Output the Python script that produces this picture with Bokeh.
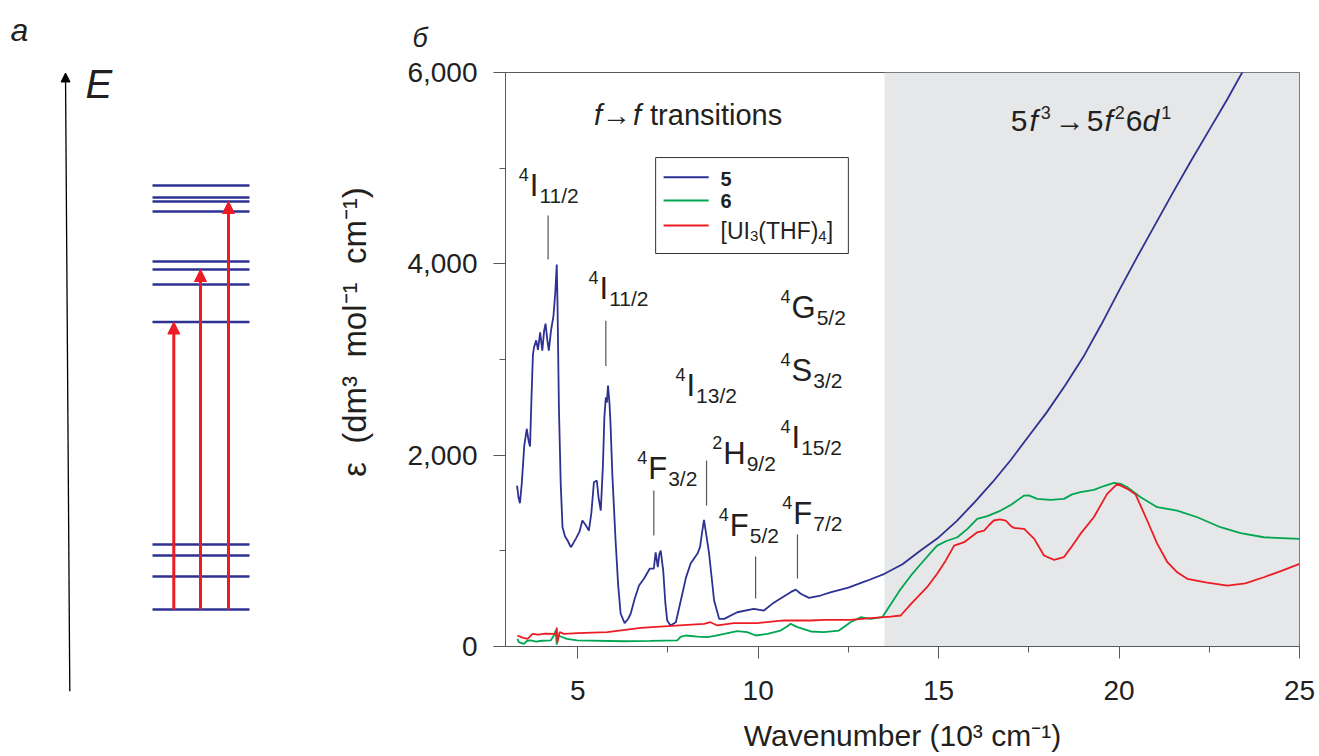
from bokeh.plotting import figure
from bokeh.layouts import row
from bokeh.models import (Range1d, BoxAnnotation, SingleIntervalTicker,
                          NumeralTickFormatter, Arrow, NormalHead)
from bokeh.core.properties import value
from bokeh.embed import file_html
from bokeh.resources import INLINE

FONT = "Liberation Sans"
INK = "#231f20"
AXC = "#58595b"
BLUE = "#2e3192"
GREEN = "#00a651"
RED = "#ed1c24"
SHADE = "#e6e7e8"

# ---------------- data: spectra (wavenumber in 10^3 cm^-1, epsilon) ----------------
blue_x = [3.32, 3.36, 3.40, 3.45, 3.52, 3.59, 3.64, 3.68, 3.72, 3.76, 3.79, 3.85, 3.90,
          3.96, 4.02, 4.07, 4.11, 4.16, 4.20, 4.26, 4.33, 4.38, 4.42, 4.44, 4.48, 4.53,
          4.58, 4.65, 4.72, 4.81, 4.88, 4.95, 5.05, 5.13, 5.22, 5.31, 5.38, 5.45, 5.53,
          5.58, 5.64, 5.70, 5.74, 5.78, 5.81, 5.84, 5.88, 5.91, 5.96, 6.05, 6.12, 6.19,
          6.30, 6.40, 6.47, 6.58, 6.70, 6.84, 7.00, 7.11, 7.16, 7.22, 7.26, 7.30, 7.37,
          7.43, 7.48, 7.57, 7.72, 7.90, 8.00, 8.13, 8.32, 8.39, 8.45, 8.50, 8.57, 8.64,
          8.78, 8.92, 9.06, 9.42, 9.88, 10.16, 10.39, 10.62, 10.90, 11.04, 11.18, 11.41,
          11.73, 12.0, 12.5, 13.0, 13.5, 14.0, 14.5, 15.0, 15.5, 16.0, 16.5, 17.0, 17.5,
          18.0, 18.5, 19.0, 19.5, 20.0, 20.5, 21.0, 21.5, 22.0, 22.5, 23.0, 23.5]
blue_y = [1682, 1560, 1497, 1700, 2100, 2275, 2150, 2090, 2600, 3050, 3128, 3200, 3100,
          3284, 3093, 3300, 3375, 3200, 3093, 3300, 3459, 3700, 3992, 3600, 2500, 1700,
          1247, 1150, 1108, 1038, 1080, 1128, 1200, 1317, 1270, 1212, 1400, 1717, 1735,
          1550, 1421, 1900, 2400, 2605, 2550, 2727, 2550, 2330, 1800, 1108, 650, 345,
          244, 290, 345, 500, 637, 711, 815, 815, 985, 829, 960, 1003, 794,
          450, 272, 219, 254, 551, 720, 867, 971, 1038, 1200, 1324, 1150, 975,
          481, 289, 289, 358, 394, 376, 446, 502, 568, 595, 551, 508,
          533, 565, 615, 685, 760, 860, 1003, 1140, 1310, 1510, 1720, 1950, 2200,
          2450, 2725, 3020, 3360, 3720, 4070, 4410, 4750, 5080, 5400, 5720, 6060]

green_x = [3.33, 3.37, 3.51, 3.60, 3.70, 3.85, 4.00, 4.25, 4.35, 4.39, 4.42, 4.44, 4.50,
           4.58, 4.70, 4.99, 6.28, 7.00, 7.76, 7.85, 7.99, 8.32, 8.59, 8.80, 9.06, 9.42,
           9.70, 9.93, 10.26, 10.62, 10.80, 10.90, 11.09, 11.46, 11.82, 12.24, 12.56,
           12.84, 13.12, 13.44, 13.67, 13.95, 14.23, 14.50, 14.80, 14.96, 15.20, 15.52,
           15.80, 16.07, 16.35, 16.72, 17.00, 17.37, 17.50, 17.73, 18.10, 18.47, 18.70,
           18.93, 19.30, 19.60, 19.86, 20.05, 20.23, 20.60, 21.06, 21.61, 22.17, 22.81,
           23.37, 24.01, 25.00]
green_y = [80, 45, 28, 60, 63, 50, 60, 63, 120, 167, 20, 100, 110,
           97, 80, 63, 55, 58, 63, 100, 115, 104, 97, 110, 132, 160,
           150, 115, 132, 167, 210, 237, 202, 157, 150, 167, 254,
           306, 289, 306, 440, 600, 740, 860, 990, 1055, 1100, 1142,
           1230, 1334, 1362, 1421, 1480, 1578, 1580, 1543, 1533, 1543, 1590,
           1613, 1637, 1680, 1710, 1700, 1665, 1560, 1456, 1421, 1351, 1247,
           1185, 1142, 1125]

red_x = [3.33, 3.45, 3.61, 3.75, 3.90, 4.10, 4.39, 4.42, 4.44, 4.50, 4.62, 5.00, 5.82,
         6.75, 7.60, 8.50, 8.68, 8.87, 9.33, 9.98, 10.71, 11.46, 11.82, 12.56, 13.21,
         13.67, 13.95, 14.25, 14.68, 14.96, 15.20, 15.43, 15.71, 16.07, 16.26, 16.40,
         16.53, 16.70, 16.86, 17.00, 17.09, 17.37, 17.65, 17.92, 18.20, 18.47, 18.70,
         18.93, 19.30, 19.67, 19.95, 20.23, 20.46, 20.78, 21.06, 21.34, 21.60, 21.89,
         22.40, 23.00, 23.50, 24.01, 24.50, 25.00]
red_y = [115, 95, 80, 132, 125, 135, 132, 198, 45, 150, 132, 140, 150,
         195, 215, 237, 254, 220, 245, 245, 272, 272, 279, 279, 300,
         313, 324, 450, 620, 760, 900, 1055, 1090, 1194, 1212, 1270,
         1317, 1330, 1317, 1260, 1240, 1229, 1125, 951, 906, 933, 1050,
         1177, 1351, 1595, 1700, 1648, 1588, 1317, 1073, 881, 780, 707,
         670, 637, 660, 724, 790, 864]

series_names = ["5", "6", "[UI3(THF)4]"]

# region boundaries
fd_start = 13.5
x_min, x_max = 3, 25
y_min, y_max = 0, 6000

# term symbols for f-f bands
term_mult = ["4", "4", "4", "4", "4", "4", "2", "4", "4", "4"]
term_letter = ["I", "I", "G", "S", "I", "I", "H", "F", "F", "F"]
term_J = ["11/2", "11/2", "5/2", "3/2", "13/2", "15/2", "9/2", "3/2", "5/2", "7/2"]
term_x = [3.37, 5.30, 10.62, 10.62, 7.71, 10.62, 8.73, 6.65, 8.91, 10.67]
term_y = [4714, 3637, 3439, 2780, 2624, 2080, 1913, 1756, 1160, 1286]

# band marker lines
mark_x = [4.18, 5.78, 7.11, 8.57, 9.93, 11.09]
mark_y0 = [4045, 2933, 1160, 1474, 502, 711]
mark_y1 = [4505, 3406, 1631, 1944, 941, 1171]

# ---------------- data: energy-level scheme (panel a) ----------------
level_energy = [0.0, 0.33, 0.54, 0.65, 2.875, 3.25, 3.40, 3.48, 3.98, 4.08, 4.12, 4.24]
transition_upper = [4, 6, 9]
transition_x = [165.3, 192.0, 220.0]
level_x0, level_x1 = 144, 241

# ---------------- text helper ----------------
AW = {'0': .556, '1': .556, '2': .556, '3': .556, '4': .556, '5': .556, '6': .556,
      '7': .556, '8': .556, '9': .556, '/': .278, 'I': .278, 'F': .611, 'G': .778,
      'S': .667, 'H': .722, 'T': .611, 'U': .722, '[': .278, ']': .278, '(': .333,
      ')': .333, ' ': .278, 'f': .278, 'd': .556, '→': 1.0, 't': .278, 'r': .333,
      'a': .556, 'n': .556, 's': .5, 'i': .222, 'o': .556}


def tw(s, size):
    return sum(AW.get(c, 0.556) for c in s) * size


def rich(fig, x, y, parts, shift=-10, color=INK):
    off = 0.0
    for text, size, dy, style, gap in parts:
        fig.text(x=[x], y=[y], text=[text], x_offset=off, y_offset=dy + shift,
                 text_font=value(FONT), text_font_size=f"{size}px",
                 text_font_style=style, text_baseline="alphabetic",
                 text_align="left", text_color=color)
        off += tw(text, size) + gap


# ---------------- panel a ----------------
pa = figure(width=330, height=756, x_range=Range1d(-8, 322), y_range=Range1d(-1.47, 6.09),
            x_axis_type=None, y_axis_type=None, toolbar_location=None,
            output_backend="svg", min_border_left=0, min_border_right=0,
            min_border_top=0, min_border_bottom=0, frame_align=False)
pa.grid.visible = False
pa.outline_line_color = None

pa.segment(x0=[level_x0] * len(level_energy), x1=[level_x1] * len(level_energy),
           y0=level_energy, y1=level_energy, line_color=BLUE, line_width=2.6)
for tx, up in zip(transition_x, transition_upper):
    pa.add_layout(Arrow(end=NormalHead(size=12, fill_color=RED, line_color=RED, line_width=1),
                        x_start=tx, y_start=level_energy[0], x_end=tx, y_end=level_energy[up],
                        line_color=RED, line_width=3))
pa.add_layout(Arrow(end=NormalHead(size=9, fill_color="black", line_color="black", line_width=1),
                    x_start=61.3, y_start=-0.818, x_end=57, y_end=5.365,
                    line_color="black", line_width=1.3))
pa.text(x=[77], y=[5.11], text=["E"], text_font=value(FONT), text_font_size="40px",
        text_font_style="italic", text_baseline="alphabetic", text_color=INK, y_offset=-15)
pa.text(x=[2], y=[5.68], text=["а"], text_font=value(FONT), text_font_size="32px",
        text_font_style="italic", text_baseline="alphabetic", text_color=INK, y_offset=-12)

# ---------------- panel b ----------------
p = figure(width=989, height=756, x_range=Range1d(x_min, x_max), y_range=Range1d(y_min, y_max),
           toolbar_location=None, output_backend="svg", title="б", frame_align=False,
           min_border_left=175, min_border_right=20, min_border_top=72, min_border_bottom=110)
p.grid.visible = False
p.outline_line_color = AXC
p.outline_line_width = 1
p.title.text_font = FONT
p.title.text_font_size = "27px"
p.title.text_font_style = "italic"
p.title.text_color = INK
p.title.align = "left"
p.title.offset = -93
p.title.standoff = 39

p.add_layout(BoxAnnotation(left=fd_start, fill_color=SHADE, fill_alpha=1.0,
                           line_color=None, level="underlay"))

p.line(blue_x, blue_y, line_color=BLUE, line_width=1.8)
p.line(green_x, green_y, line_color=GREEN, line_width=1.8)
p.line(red_x, red_y, line_color=RED, line_width=1.8)

# axes
p.xaxis.ticker = SingleIntervalTicker(interval=5, num_minor_ticks=2)
p.yaxis.ticker = SingleIntervalTicker(interval=2000, num_minor_ticks=2)
p.yaxis.formatter = NumeralTickFormatter(format="0,0")
for ax in (p.xaxis[0], p.yaxis[0]):
    ax.axis_line_color = AXC
    ax.major_tick_line_color = AXC
    ax.minor_tick_line_color = AXC
    ax.major_tick_in = 0
    ax.major_tick_out = 12
    ax.minor_tick_in = 0
    ax.minor_tick_out = 6
    ax.major_label_text_font = FONT
    ax.major_label_text_font_size = "28px"
    ax.major_label_text_color = INK
    ax.axis_label_text_font = FONT
    ax.axis_label_text_font_size = "30px"
    ax.axis_label_text_font_style = "normal"
    ax.axis_label_text_color = INK
p.yaxis.axis_label_text_font_size = "33px"
p.xaxis.axis_label = "Wavenumber (10³ cm⁻¹)"
p.yaxis.axis_label = "\u00a0" * 6 + "ε\u00a0 (dm³\u00a0 mol⁻¹\u00a0 cm⁻¹)"
p.xaxis.major_label_standoff = 22
p.xaxis.axis_label_standoff = 16
p.yaxis.major_label_standoff = 16
p.yaxis.axis_label_standoff = 31

# band markers and term labels
p.segment(x0=mark_x, x1=mark_x, y0=mark_y0, y1=mark_y1, line_color="#555555", line_width=1.2)
for m, L, J, x, y in zip(term_mult, term_letter, term_J, term_x, term_y):
    rich(p, x, y, [(m, 18, -11, "normal", 1), (L, 31, 0, "normal", 1), (J, 21, 10, "normal", 0)])

# region titles
rich(p, 5.45, 5446, [("f", 29, 0, "italic", 0), ("→", 29, 0, "normal", 2),
                     ("f", 29, 0, "italic", 9), ("transitions", 29, 0, "normal", 0)])
rich(p, 17.0, 5393, [("5", 30, 0, "normal", 2), ("f", 30, 0, "italic", 3),
                     ("3", 18, -8, "normal", 4), ("→", 30, 0, "normal", 2),
                     ("5", 30, 0, "normal", 1), ("f", 30, 0, "italic", 2),
                     ("2", 18, -8, "normal", 1), ("6", 30, 0, "normal", 0),
                     ("d", 30, 0, "italic", 2), ("1", 18, -8, "normal", 0)])

# legend (drawn with the plot scales)
p.quad(left=[7.16], right=[12.50], bottom=[4108], top=[5111], fill_color="white",
       line_color="#333333", line_width=1)
leg_y = [4906, 4662, 4400]
p.segment(x0=[7.38] * 3, x1=[8.63] * 3, y0=leg_y, y1=leg_y, line_color=[BLUE, GREEN, RED],
          line_width=2)
p.text(x=[8.96, 8.96], y=[4829, 4591], text=series_names[:2], text_font=value(FONT),
       text_font_size="20px", text_font_style="bold", text_baseline="alphabetic",
       text_color=INK, y_offset=-6)
rich(p, 8.96, 4275, [("[UI", 23, 0, "normal", 0), ("3", 15, 5, "normal", 0),
                     ("(THF)", 23, 0, "normal", 0), ("4", 15, 5, "normal", 0),
                     ("]", 23, 0, "normal", 0)], shift=-7)

layout = row(pa, p)
open("out.html", "w").write(file_html(layout, INLINE))
